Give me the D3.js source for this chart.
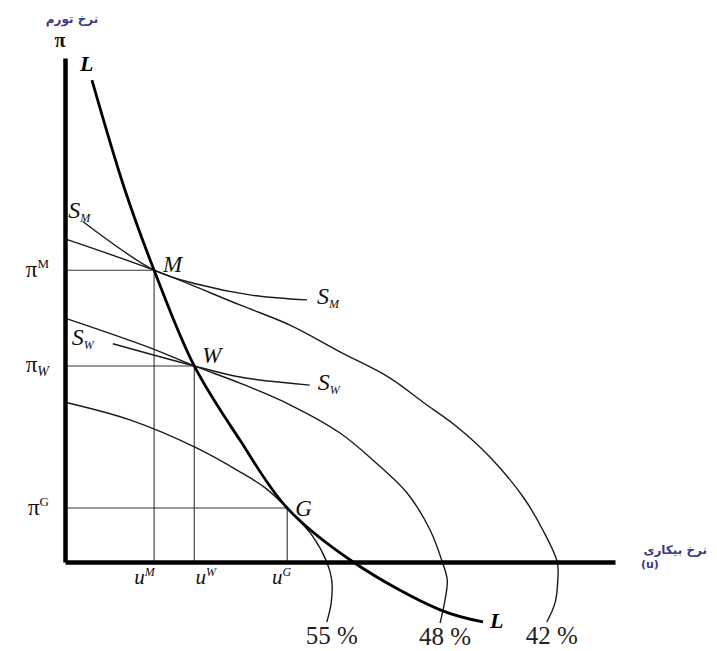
<!DOCTYPE html>
<html>
<head>
<meta charset="utf-8">
<script src="https://cdn.jsdelivr.net/npm/d3@7/dist/d3.min.js"></script>
<style>
  html, body { margin: 0; padding: 0; background: #fff; }
  svg { display: block; }
</style>
</head>
<body>
<svg id="chart" width="717" height="651"></svg>
<script>
// ---------- data (x: unemployment u, y: inflation π, arbitrary units 0..100) ----------
const pointNames = ["M", "W", "G"];
const pointU = [16.2, 23.5, 40.4];
const pointPi = [57.9, 38.9, 10.7];

// L curve (thick)
const curveLU  = [4.9, 10.9, 16.2, 23.5, 31.8, 40.4, 52.4, 68.2, 76.0];
const curveLPi = [95.6, 73.8, 57.9, 38.9, 24.2, 10.7, 0, -9.5, -11.9];

// indifference curves
const curveSMU  = [3.3, 16.2, 24.5, 33.6, 44.0];
const curveSMPi = [67.5, 57.9, 55.0, 53.0, 52.0];
const curveSWU  = [8.7, 23.5, 31.8, 44.5];
const curveSWPi = [43.3, 38.9, 36.7, 35.1];

// vote-share curves
const voteLabels = ["55 %", "48 %", "42 %"];
const vote55U  = [0, 11.8, 24.0, 31.8, 36.4, 40.4, 45.1, 47.6, 48.5, 48.4, 47.6];
const vote55Pi = [31.7, 28.2, 22.6, 17.9, 14.7, 10.7, 5.0, 0, -3.6, -8.1, -11.9];
const vote48U  = [0, 15.5, 23.5, 31.8, 40.9, 50.0, 56.0, 62.2, 66.4, 68.6, 69.5, 69.1, 68.2];
const vote48Pi = [48.4, 42.5, 38.9, 35.5, 31.2, 25.6, 20.2, 13.7, 6.3, 0, -3.6, -7.5, -12.1];
const vote42U  = [0, 16.2, 31.8, 40.9, 50.0, 59.1, 65.1, 71.3, 77.3, 83.3, 86.9, 89.5, 89.6, 89.1, 87.6];
const vote42Pi = [64.1, 57.9, 51.0, 47.0, 41.7, 36.5, 31.7, 26.8, 20.8, 12.9, 6.3, 0, -3.6, -8.1, -11.9];

// tick labels
const yTickBase = ["π", "π", "π"];
const yTickSup  = ["M", "", "G"];
const yTickSub  = ["", "W", ""];
const xTickBase = ["u", "u", "u"];
const xTickSup  = ["M", "W", "G"];

const yAxisTitle = "نرخ تورم";
const yAxisSymbol = "π";
const xAxisTitle = "نرخ بیکاری";
const xAxisSymbol = "(u)";

// ---------- drawing ----------
const SERIF = "'Liberation Serif', 'Times New Roman', 'DejaVu Serif', serif";
const SANS = "'DejaVu Sans', 'Noto Sans', sans-serif";
const svg = d3.select("#chart");
const x = d3.scaleLinear().domain([0, 100]).range([65, 615]);
const y = d3.scaleLinear().domain([0, 100]).range([562, 58]);

const zip = (a, b) => a.map((v, i) => [v, b[i]]);
const line = d3.line().x(d => x(d[0])).y(d => y(d[1])).curve(d3.curveCatmullRom.alpha(0.5));

// guide lines
const pts = pointNames.map((n, i) => ({ name: n, u: pointU[i], pi: pointPi[i] }));
const g = svg.append("g");
g.selectAll("line.h").data(pts).join("line")
  .attr("x1", x(0)).attr("x2", d => x(d.u))
  .attr("y1", d => y(d.pi)).attr("y2", d => y(d.pi))
  .attr("stroke", "#333").attr("stroke-width", 1.1);
g.selectAll("line.v").data(pts).join("line")
  .attr("x1", d => x(d.u)).attr("x2", d => x(d.u))
  .attr("y1", d => y(d.pi)).attr("y2", y(0))
  .attr("stroke", "#333").attr("stroke-width", 1.1);

// thin curves
const thin = [
  zip(vote55U, vote55Pi), zip(vote48U, vote48Pi), zip(vote42U, vote42Pi),
  zip(curveSMU, curveSMPi), zip(curveSWU, curveSWPi)
];
g.selectAll("path.thin").data(thin).join("path")
  .attr("d", line).attr("fill", "none")
  .attr("stroke", "#1a1a1a").attr("stroke-width", 1.4);

// L curve
g.append("path").datum(zip(curveLU, curveLPi))
  .attr("d", line).attr("fill", "none")
  .attr("stroke", "#000").attr("stroke-width", 2.8);

// axes
const yAxis = d3.axisLeft(y).tickValues(pointPi).tickSize(0).tickFormat(() => "");
const xAxis = d3.axisBottom(x).tickValues(pointU).tickSize(0).tickFormat(() => "");
const ya = svg.append("g").attr("transform", `translate(${x(0)},0)`).call(yAxis);
const xa = svg.append("g").attr("transform", `translate(0,${y(0)})`).call(xAxis);
[ya, xa].forEach(a => a.select(".domain").attr("stroke", "#000").attr("stroke-width", 4.5));

ya.selectAll(".tick").each(function(d, i) {
  const t = d3.select(this).append("text")
    .attr("font-family", SERIF)
    .attr("x", -16).attr("y", 6).attr("text-anchor", "end")
    .attr("fill", "#111").attr("font-size", 23);
  t.append("tspan").text(yTickBase[i]);
  if (yTickSup[i]) t.append("tspan").attr("dy", -9).attr("font-size", 13).text(yTickSup[i]);
  if (yTickSub[i]) t.append("tspan").attr("dy", 4).attr("font-size", 14).attr("font-style", "italic").text(yTickSub[i]);
});
const xLabelShift = [-10, 11, -6];
xa.selectAll(".tick").each(function(d, i) {
  const t = d3.select(this).append("text")
    .attr("font-family", SERIF).attr("font-style", "italic")
    .attr("x", xLabelShift[i]).attr("y", 22).attr("text-anchor", "middle")
    .attr("fill", "#111").attr("font-size", 21);
  t.append("tspan").text(xTickBase[i]);
  t.append("tspan").attr("dy", -8).attr("font-size", 12).text(xTickSup[i]);
});

// point labels
const ptOff = [[9, 2], [8, -3], [8, 8]];
svg.selectAll("text.pt").data(pts).join("text")
  .attr("font-family", SERIF).attr("font-style", "italic")
  .attr("x", (d, i) => x(d.u) + ptOff[i][0]).attr("y", (d, i) => y(d.pi) + ptOff[i][1])
  .attr("font-size", 23).attr("fill", "#111").text(d => d.name);

// L labels
const lFirst = [curveLU[0], curveLPi[0]], lLast = [curveLU[curveLU.length - 1], curveLPi[curveLPi.length - 1]];
svg.append("text").attr("font-family", SERIF).attr("font-style", "italic").attr("font-weight", "bold").attr("font-size", 22)
  .attr("x", x(lFirst[0]) - 12).attr("y", y(lFirst[1]) - 9).text("L");
svg.append("text").attr("font-family", SERIF).attr("font-style", "italic").attr("font-weight", "bold").attr("font-size", 22)
  .attr("x", x(lLast[0]) + 7).attr("y", y(lLast[1]) + 6).text("L");

// S labels
function sLabel(px, py, sub) {
  const t = svg.append("text").attr("font-family", SERIF).attr("font-style", "italic")
    .attr("x", px).attr("y", py).attr("font-size", 24).attr("fill", "#111");
  t.append("tspan").text("S");
  t.append("tspan").attr("dy", 4).attr("font-size", 12).text(sub);
}
sLabel(x(curveSMU[0]) - 15, y(curveSMPi[0]) - 4, "M");
sLabel(x(curveSMU[curveSMU.length - 1]) + 10, y(curveSMPi[curveSMPi.length - 1]) + 4, "M");
sLabel(x(curveSWU[0]) - 41, y(curveSWPi[0]) + 1, "W");
sLabel(x(curveSWU[curveSWU.length - 1]) + 8, y(curveSWPi[curveSWPi.length - 1]) + 5, "W");

// vote labels
const voteEnds = [[vote55U, vote55Pi], [vote48U, vote48Pi], [vote42U, vote42Pi]];
svg.selectAll("text.vote").data(voteLabels).join("text")
  .attr("font-family", SERIF)
  .attr("x", (d, i) => x(voteEnds[i][0][voteEnds[i][0].length - 1]) + 5)
  .attr("y", (d, i) => y(voteEnds[i][1][voteEnds[i][1].length - 1]) + 22)
  .attr("text-anchor", "middle").attr("font-size", 25).attr("fill", "#222")
  .text(d => d);

// axis titles
svg.append("text").attr("font-family", SANS).attr("font-weight", "bold").attr("x", 72).attr("y", 23)
  .attr("text-anchor", "middle").attr("font-size", 12).attr("fill", "#3a3a80").text(yAxisTitle);
svg.append("text").attr("font-family", SERIF).attr("font-weight", "bold").attr("x", 60).attr("y", 47)
  .attr("text-anchor", "middle").attr("font-size", 20).attr("fill", "#111").text(yAxisSymbol);
svg.append("text").attr("font-family", SANS).attr("font-weight", "bold").attr("x", 707).attr("y", 554)
  .attr("text-anchor", "end").attr("font-size", 12).attr("fill", "#3a3a80").text(xAxisTitle);
svg.append("text").attr("font-family", SANS).attr("font-weight", "bold").attr("x", 641).attr("y", 568)
  .attr("text-anchor", "start").attr("font-size", 11).attr("fill", "#3a3a80").text(xAxisSymbol);
</script>
</body>
</html>
